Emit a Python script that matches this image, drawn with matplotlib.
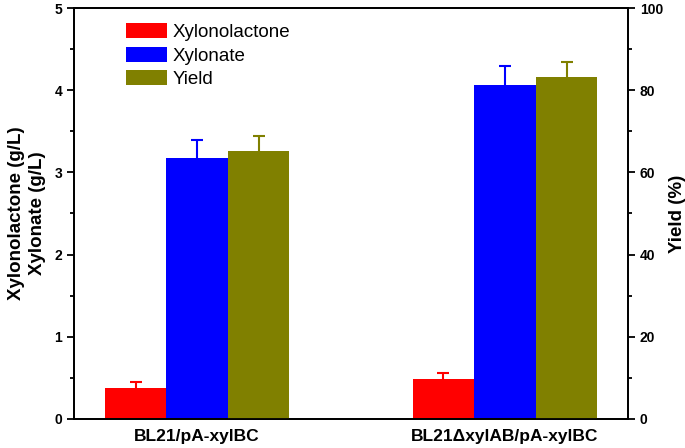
import matplotlib
matplotlib.use("Agg")
import matplotlib.pyplot as plt
import numpy as np

plt.rcParams['font.family'] = ['Liberation Sans', 'DejaVu Sans']

strains = ["BL21/pA-xylBC", "BL21\u0394xylAB/pA-xylBC"]
xylonolactone = [0.38, 0.48]
xylonolactone_err = [0.07, 0.08]
xylonate = [3.18, 4.06]
xylonate_err = [0.21, 0.23]
yield_pct = [65.2, 83.3]
yield_err = [3.6, 3.5]

x = np.arange(len(strains))
w = 0.2

fig = plt.figure(figsize=(6.85, 4.48), dpi=100)
ax = fig.add_axes([0.108, 0.065, 0.809, 0.917])
ax2 = ax.twinx()


def up_err(a, xs, ys, err, col):
    eb = a.errorbar(xs, ys, yerr=[np.zeros(len(ys)), err], fmt="none",
                    ecolor=col, elinewidth=1.5, capsize=4.5, capthick=1.5)
    # hide the cap sitting on top of the bar
    eb[1][0].set_visible(False)


b1 = ax.bar(x - w, xylonolactone, w, color="#ff0000")
up_err(ax, x - w, xylonolactone, xylonolactone_err, "#ff0000")
b2 = ax.bar(x, xylonate, w, color="#0000ff")
up_err(ax, x, xylonate, xylonate_err, "#0000ff")
b3 = ax2.bar(x + w, yield_pct, w, color="#808000")
up_err(ax2, x + w, yield_pct, yield_err, "#808000")

ax.set_xlim(-0.4, 1.4)
ax.set_ylim(0, 5)
ax2.set_ylim(0, 100)
ax.set_yticks(np.arange(0, 6, 1))
ax.set_yticks(np.arange(0.5, 5, 1), minor=True)
ax2.set_yticks(np.arange(0, 101, 20))
ax2.set_yticks(np.arange(10, 100, 20), minor=True)
ax.set_xticks(x)
ax.set_xticklabels(strains, fontweight="bold", fontsize=12.5)
ax.tick_params(axis="x", length=0, pad=7)
for a in (ax, ax2):
    a.tick_params(axis="y", which="major", length=5, width=1.3, labelsize=10, direction="out")
    a.tick_params(axis="y", which="minor", length=3, width=1.3, direction="out")
    for s in a.spines.values():
        s.set_linewidth(1.3)
for lab in ax.get_yticklabels() + ax2.get_yticklabels():
    lab.set_fontweight("bold")

ax.set_ylabel("Xylonolactone (g/L)\nXylonate (g/L)", fontsize=13.5, fontweight="bold",
              labelpad=6, linespacing=1.3)
ax2.set_ylabel("Yield (%)", fontsize=13.5, fontweight="bold", labelpad=4)

ax.legend([b1, b2, b3], ["Xylonolactone", "Xylonate", "Yield"], loc="upper left",
          bbox_to_anchor=(0.066, 1.0), frameon=False, fontsize=13.5,
          handlelength=2.2, handleheight=0.85, handletextpad=0.3, labelspacing=0.3,
          borderpad=0.3)

fig.savefig("out.png", dpi=100)
